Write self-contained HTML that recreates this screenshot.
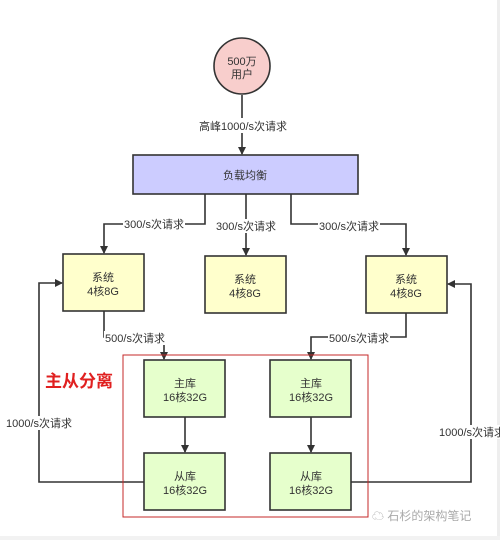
<!DOCTYPE html>
<html><head><meta charset="utf-8"><style>
body{margin:0;background:#fff;}
svg text{font-family:"Liberation Sans","Noto Sans CJK SC",sans-serif;fill:#333;}
</style></head><body>
<svg width="500" height="540" viewBox="0 0 500 540" xmlns="http://www.w3.org/2000/svg">
<defs><marker id="a" markerWidth="8" markerHeight="8" refX="7" refY="4" orient="auto" markerUnits="userSpaceOnUse"><path d="M0,0 L8,4 L0,8 z" fill="#333"/></marker></defs>
<rect x="497" y="0" width="3" height="540" fill="#eee"/>
<rect x="0" y="536" width="500" height="4" fill="#f2f2f2"/>
<g stroke="#333" stroke-width="1.6" fill="none">
<path d="M242,95 V154" marker-end="url(#a)"/>
<path d="M205,194 V224 H104 V253" marker-end="url(#a)"/>
<path d="M246,194 V255" marker-end="url(#a)"/>
<path d="M291,194 V224 H406 V255" marker-end="url(#a)"/>
<path d="M104,311 V337 H164 V359" marker-end="url(#a)"/>
<path d="M406,313 V337 H311 V359" marker-end="url(#a)"/>
<path d="M185,417 V452" marker-end="url(#a)"/>
<path d="M311,417 V452" marker-end="url(#a)"/>
<path d="M144,482 H39 V283 H62" marker-end="url(#a)"/>
<path d="M351,482 H471 V284 H448" marker-end="url(#a)"/>
</g>
<g font-size="11" text-anchor="middle">
<rect x="198" y="118" width="90" height="15" fill="#fff"/><text x="243" y="130">高峰1000/s次请求</text>
<rect x="123" y="217" width="62" height="14" fill="#fff"/><text x="154" y="228">300/s次请求</text>
<rect x="215" y="219" width="62" height="14" fill="#fff"/><text x="246" y="230">300/s次请求</text>
<rect x="318" y="219" width="62" height="14" fill="#fff"/><text x="349" y="230">300/s次请求</text>
<rect x="104" y="331" width="62" height="14" fill="#fff"/><text x="135" y="342">500/s次请求</text>
<rect x="328" y="331" width="62" height="14" fill="#fff"/><text x="359" y="342">500/s次请求</text>
<rect x="5" y="416" width="68" height="14" fill="#fff"/><text x="39" y="427">1000/s次请求</text>
<rect x="437" y="425" width="63" height="14" fill="#fff"/><text x="472" y="436">1000/s次请求</text>
</g>
<circle cx="242" cy="66" r="28" fill="#f8cecc" stroke="#333" stroke-width="1.6"/>
<text x="242" y="65" font-size="11" text-anchor="middle">500万</text>
<text x="242" y="78" font-size="11" text-anchor="middle">用户</text>
<rect x="133" y="155" width="225" height="39" fill="#ccccff" stroke="#333" stroke-width="1.6"/>
<text x="245" y="179" font-size="11" text-anchor="middle">负载均衡</text>
<g fill="#ffffcc" stroke="#333" stroke-width="1.6">
<rect x="63" y="254" width="81" height="57"/><rect x="205" y="256" width="81" height="57"/><rect x="366" y="256" width="81" height="57"/>
</g>
<g font-size="11" text-anchor="middle">
<text x="103" y="281">系统</text><text x="103" y="295">4核8G</text>
<text x="245" y="283">系统</text><text x="245" y="297">4核8G</text>
<text x="406" y="283">系统</text><text x="406" y="297">4核8G</text>
</g>
<rect x="123" y="355" width="245" height="162" fill="none" stroke="#c62828" stroke-width="1"/>
<g fill="#e6ffcc" stroke="#333" stroke-width="1.6">
<rect x="144" y="360" width="81" height="57"/><rect x="270" y="360" width="81" height="57"/>
<rect x="144" y="453" width="81" height="57"/><rect x="270" y="453" width="81" height="57"/>
</g>
<g font-size="11" text-anchor="middle">
<text x="185" y="387">主库</text><text x="185" y="401">16核32G</text>
<text x="311" y="387">主库</text><text x="311" y="401">16核32G</text>
<text x="185" y="480">从库</text><text x="185" y="494">16核32G</text>
<text x="311" y="480">从库</text><text x="311" y="494">16核32G</text>
</g>
<text x="45" y="387" font-size="17" font-weight="bold" style="fill:#e02020">主从分离</text>
<text x="372" y="520" font-size="12" style="fill:#aaa">☁ 石杉的架构笔记</text>
</svg>
</body></html>
